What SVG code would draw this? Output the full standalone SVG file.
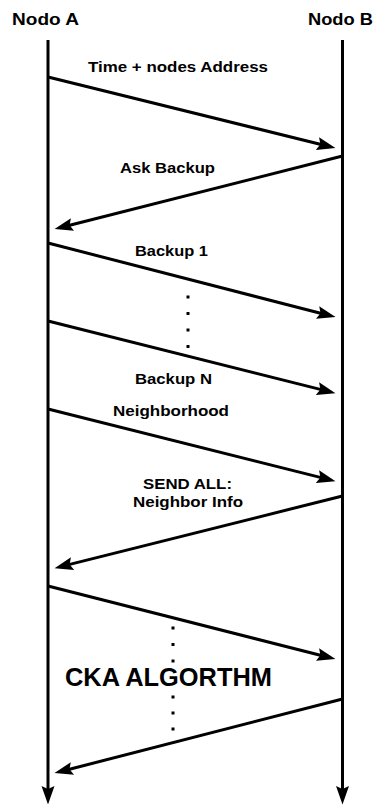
<svg xmlns="http://www.w3.org/2000/svg" width="376" height="805" viewBox="0 0 376 805">
<style>
.t{font-family:"Liberation Sans",Arial,sans-serif;font-weight:bold;fill:#000}
.h{font-size:17px}
.l{font-size:15px}
.big{font-size:25.5px}
.ln{stroke:#000;stroke-width:3;fill:none;marker-end:url(#ah)}
.dot{fill:#000}
</style>
<defs>
<marker id="ah" markerUnits="userSpaceOnUse" markerWidth="19" markerHeight="14" refX="10" refY="7" orient="auto" viewBox="0 0 19 14">
<path d="M0,0.5 L18.5,7 L0,13.5 L3,7 Z" fill="#000"/>
</marker>
</defs>
<rect width="376" height="805" fill="#fff"/>
<g id="nodoA">
<text class="t h" x="12" y="25" textLength="67" lengthAdjust="spacingAndGlyphs">Nodo A</text>
</g>
<g id="nodoB">
<text class="t h" x="308" y="25" textLength="65" lengthAdjust="spacingAndGlyphs">Nodo B</text>
</g>
<g id="connectors">
<line class="ln" x1="48" y1="40" x2="48" y2="796"/>
<line class="ln" x1="342.5" y1="40" x2="342.5" y2="796"/>
<line class="ln" x1="48" y1="77" x2="327.2" y2="146"/>
<line class="ln" x1="342.5" y1="156" x2="62.8" y2="227"/>
<line class="ln" x1="48" y1="243" x2="327.3" y2="315"/>
<line class="ln" x1="48" y1="321" x2="327.2" y2="391.1"/>
<line class="ln" x1="48" y1="409" x2="327.2" y2="479.1"/>
<line class="ln" x1="342.5" y1="496" x2="62.8" y2="566.1"/>
<line class="ln" x1="48" y1="586" x2="327.2" y2="657"/>
<line class="ln" x1="342.5" y1="699" x2="62.7" y2="771"/>
</g>
<g id="labels">
<text class="t l" x="88" y="72" textLength="180" lengthAdjust="spacingAndGlyphs">Time + nodes Address</text>
<text class="t l" x="120" y="173" textLength="95" lengthAdjust="spacingAndGlyphs">Ask Backup</text>
<text class="t l" x="135" y="256" textLength="73" lengthAdjust="spacingAndGlyphs">Backup 1</text>
<text class="t l" x="135" y="384" textLength="77" lengthAdjust="spacingAndGlyphs">Backup N</text>
<text class="t l" x="113" y="416" textLength="116" lengthAdjust="spacingAndGlyphs">Neighborhood</text>
<text class="t l" x="143" y="489" textLength="89" lengthAdjust="spacingAndGlyphs">SEND ALL:</text>
<text class="t l" x="133" y="507" textLength="110" lengthAdjust="spacingAndGlyphs">Neighbor Info</text>
</g>
<g id="dots1">
<rect class="dot" x="186.5" y="295.5" width="3" height="3"/>
<rect class="dot" x="186.5" y="312" width="3" height="3"/>
<rect class="dot" x="186.5" y="328.5" width="3" height="3"/>
<rect class="dot" x="186.5" y="345" width="3" height="3"/>
</g>
<g id="dots2">
<rect class="dot" x="171.5" y="626.5" width="3" height="3"/>
<rect class="dot" x="171.5" y="643" width="3" height="3"/>
<rect class="dot" x="171.5" y="659.5" width="3" height="3"/>
<rect class="dot" x="171.5" y="695.5" width="3" height="3"/>
<rect class="dot" x="171.5" y="711.5" width="3" height="3"/>
<rect class="dot" x="171.5" y="727.5" width="3" height="3"/>
</g>
<g id="cka">
<text class="t big" x="65" y="686" textLength="207" lengthAdjust="spacingAndGlyphs">CKA ALGORTHM</text>
</g>
</svg>
